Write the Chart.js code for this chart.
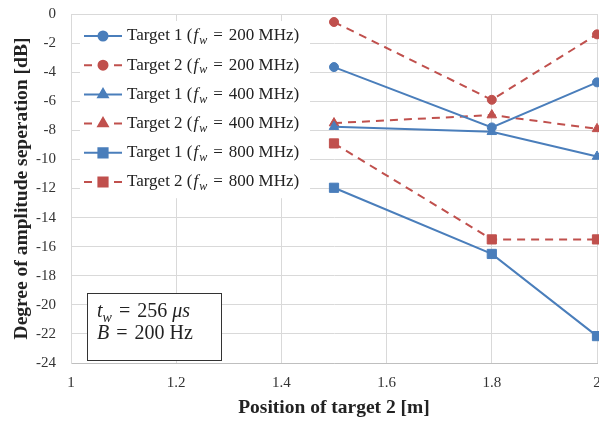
<!DOCTYPE html>
<html>
<head>
    <title>Amplitude Separation Chart</title>
    <script src="https://cdn.jsdelivr.net/npm/chart.js"></script>
    <style>
        body {
            margin: 0;
            background: #fff;
        }
        .chart-container {
            width: 599px;
            height: 424px;
        }
    </style>
</head>
<body>
    <div class="chart-container">
        <canvas id="sepChart"></canvas>
    </div>

    <script>
        // positions of target 2 [m]
        const positions = [1.5, 1.8, 2];
        // degree of amplitude separation [dB]
        const t1_200 = [-3.65, -7.8, -4.7];
        const t2_200 = [-0.55, -5.9, -1.4];
        const t1_400 = [-7.75, -8.1, -9.8];
        const t2_400 = [-7.5, -6.95, -7.9];
        const t1_800 = [-11.95, -16.5, -22.15];
        const t2_800 = [-8.9, -15.5, -15.5];
        const xTicks = [1, 1.2, 1.4, 1.6, 1.8, 2];
        const yTicks = [-24, -22, -20, -18, -16, -14, -12, -10, -8, -6, -4, -2, 0];

        const blue = '#4a7ebb';
        const red = '#c0504d';
        const serif = "'Liberation Serif', 'DejaVu Serif', serif";
        const markerSize = { circle: 4.5, triangle: 5.5, rect: 6.5 };

        function series(label, target, fw, values, color, marker, dashed) {
            return {
                label: label,
                target: target,
                fw: fw,
                data: positions.map((x, i) => ({ x: x, y: values[i] })),
                borderColor: color,
                backgroundColor: color,
                borderWidth: 2,
                borderDash: dashed ? [8, 6] : [],
                pointStyle: marker,
                pointRadius: markerSize[marker],
                pointBorderWidth: 1,
                tension: 0,
                clip: false
            };
        }

        const datasets = [
            series('Target 1 (fw = 200 MHz)', 1, 200, t1_200, blue, 'circle', false),
            series('Target 2 (fw = 200 MHz)', 2, 200, t2_200, red, 'circle', true),
            series('Target 1 (fw = 400 MHz)', 1, 400, t1_400, blue, 'triangle', false),
            series('Target 2 (fw = 400 MHz)', 2, 400, t2_400, red, 'triangle', true),
            series('Target 1 (fw = 800 MHz)', 1, 800, t1_800, blue, 'rect', false),
            series('Target 2 (fw = 800 MHz)', 2, 800, t2_800, red, 'rect', true)
        ];

        // writes a run of [text, style] pieces, returns the end x
        function writeRuns(ctx, runs, x, y, size) {
            runs.forEach(([text, style, gap]) => {
                const sub = style === 'sub';
                ctx.font = (style === 'normal' ? '' : 'italic ') + (sub ? Math.round(size * 0.68) : size) + 'px ' + serif;
                x += gap || 0;
                ctx.fillText(text, x, sub ? y + size * 0.3 : y);
                x += ctx.measureText(text).width + (gap || 0);
            });
            return x;
        }

        // legend inside the plot, plus the parameter box
        const insideLegend = {
            id: 'insideLegend',
            beforeDatasetsDraw(chart) {
                const ctx = chart.ctx;
                const area = chart.chartArea;
                const left = area.left + 9;
                const top = area.top + 7;
                const rowH = 29.2;
                ctx.save();
                ctx.fillStyle = '#fff';
                ctx.fillRect(left, top, 230, rowH * 6 + 2);

                chart.data.datasets.forEach((ds, i) => {
                    const cy = top + 15 + i * rowH;
                    const x0 = left + 4;
                    ctx.strokeStyle = ds.borderColor;
                    ctx.lineWidth = 2;
                    ctx.beginPath();
                    if (ds.borderDash.length) {
                        ctx.moveTo(x0, cy); ctx.lineTo(x0 + 8, cy);
                        ctx.moveTo(x0 + 30, cy); ctx.lineTo(x0 + 38, cy);
                    } else {
                        ctx.moveTo(x0, cy); ctx.lineTo(x0 + 38, cy);
                    }
                    ctx.stroke();
                    Chart.helpers.drawPoint(ctx, {
                        pointStyle: ds.pointStyle,
                        radius: ds.pointRadius,
                        borderWidth: 1
                    }, x0 + 19, cy);
                    ctx.fillStyle = ds.backgroundColor;
                    ctx.fill();

                    ctx.fillStyle = '#222';
                    ctx.textBaseline = 'middle';
                    writeRuns(ctx, [
                        ['Target ' + ds.target + ' (', 'normal'],
                        ['f', 'italic', 1],
                        ['w', 'sub'],
                        ['=', 'normal', 6],
                        [ds.fw + ' MHz)', 'normal']
                    ], x0 + 43, cy, 17);
                });

                // parameter box
                const bx = area.left + 16;
                const by = area.bottom - 70;
                ctx.fillStyle = '#fff';
                ctx.fillRect(bx, by, 134, 67);
                ctx.strokeStyle = '#333';
                ctx.lineWidth = 1;
                ctx.strokeRect(bx + 0.5, by + 0.5, 134, 67);
                ctx.fillStyle = '#222';
                ctx.textBaseline = 'middle';
                writeRuns(ctx, [
                    ['t', 'italic'],
                    ['w', 'sub'],
                    ['=', 'normal', 7],
                    ['256 ', 'normal'],
                    ['\u03bcs', 'italic']
                ], bx + 10, by + 19, 20);
                writeRuns(ctx, [
                    ['B', 'italic'],
                    ['=', 'normal', 7],
                    ['200 Hz', 'normal']
                ], bx + 10, by + 41, 20);
                ctx.restore();
            }
        };

        new Chart(document.getElementById('sepChart'), {
            type: 'line',
            data: { datasets: datasets },
            options: {
                responsive: true,
                maintainAspectRatio: false,
                animation: false,
                layout: { autoPadding: false, padding: { top: 14, right: 2, left: 0, bottom: 0 } },
                plugins: {
                    legend: { display: false },
                    tooltip: { enabled: false }
                },
                scales: {
                    x: {
                        type: 'linear',
                        min: 1,
                        max: 2,
                        afterBuildTicks: axis => { axis.ticks = xTicks.map(v => ({ value: v })); },
                        afterFit: axis => {
                            axis.paddingRight = 0;
                            axis.paddingLeft = 0;
                            axis.height = 61;
                        },
                        ticks: {
                            color: '#333',
                            font: { family: serif, size: 15 },
                            padding: 11,
                            maxRotation: 0,
                            callback: v => String(v)
                        },
                        grid: { color: '#d9d9d9', drawTicks: false },
                        border: { color: '#bfbfbf' },
                        title: {
                            display: true,
                            text: 'Position of target 2 [m]',
                            color: '#222',
                            font: { family: serif, size: 19.5, weight: 'bold' },
                            padding: { top: 0, bottom: 4 }
                        }
                    },
                    y: {
                        min: -24,
                        max: 0,
                        afterBuildTicks: axis => { axis.ticks = yTicks.map(v => ({ value: v })); },
                        afterFit: axis => {
                            axis.paddingTop = 0;
                            axis.paddingBottom = 0;
                            axis.width = 71;
                        },
                        ticks: {
                            color: '#333',
                            font: { family: serif, size: 15 },
                            padding: 15
                        },
                        grid: { color: '#d9d9d9', drawTicks: false },
                        border: { color: '#d9d9d9' },
                        title: {
                            display: true,
                            text: 'Degree of amplitude seperation [dB]',
                            color: '#222',
                            font: { family: serif, size: 19.5, weight: 'bold' },
                            padding: { top: 10, bottom: 0 }
                        }
                    }
                }
            },
            plugins: [insideLegend]
        });
    </script>
</body>
</html>
